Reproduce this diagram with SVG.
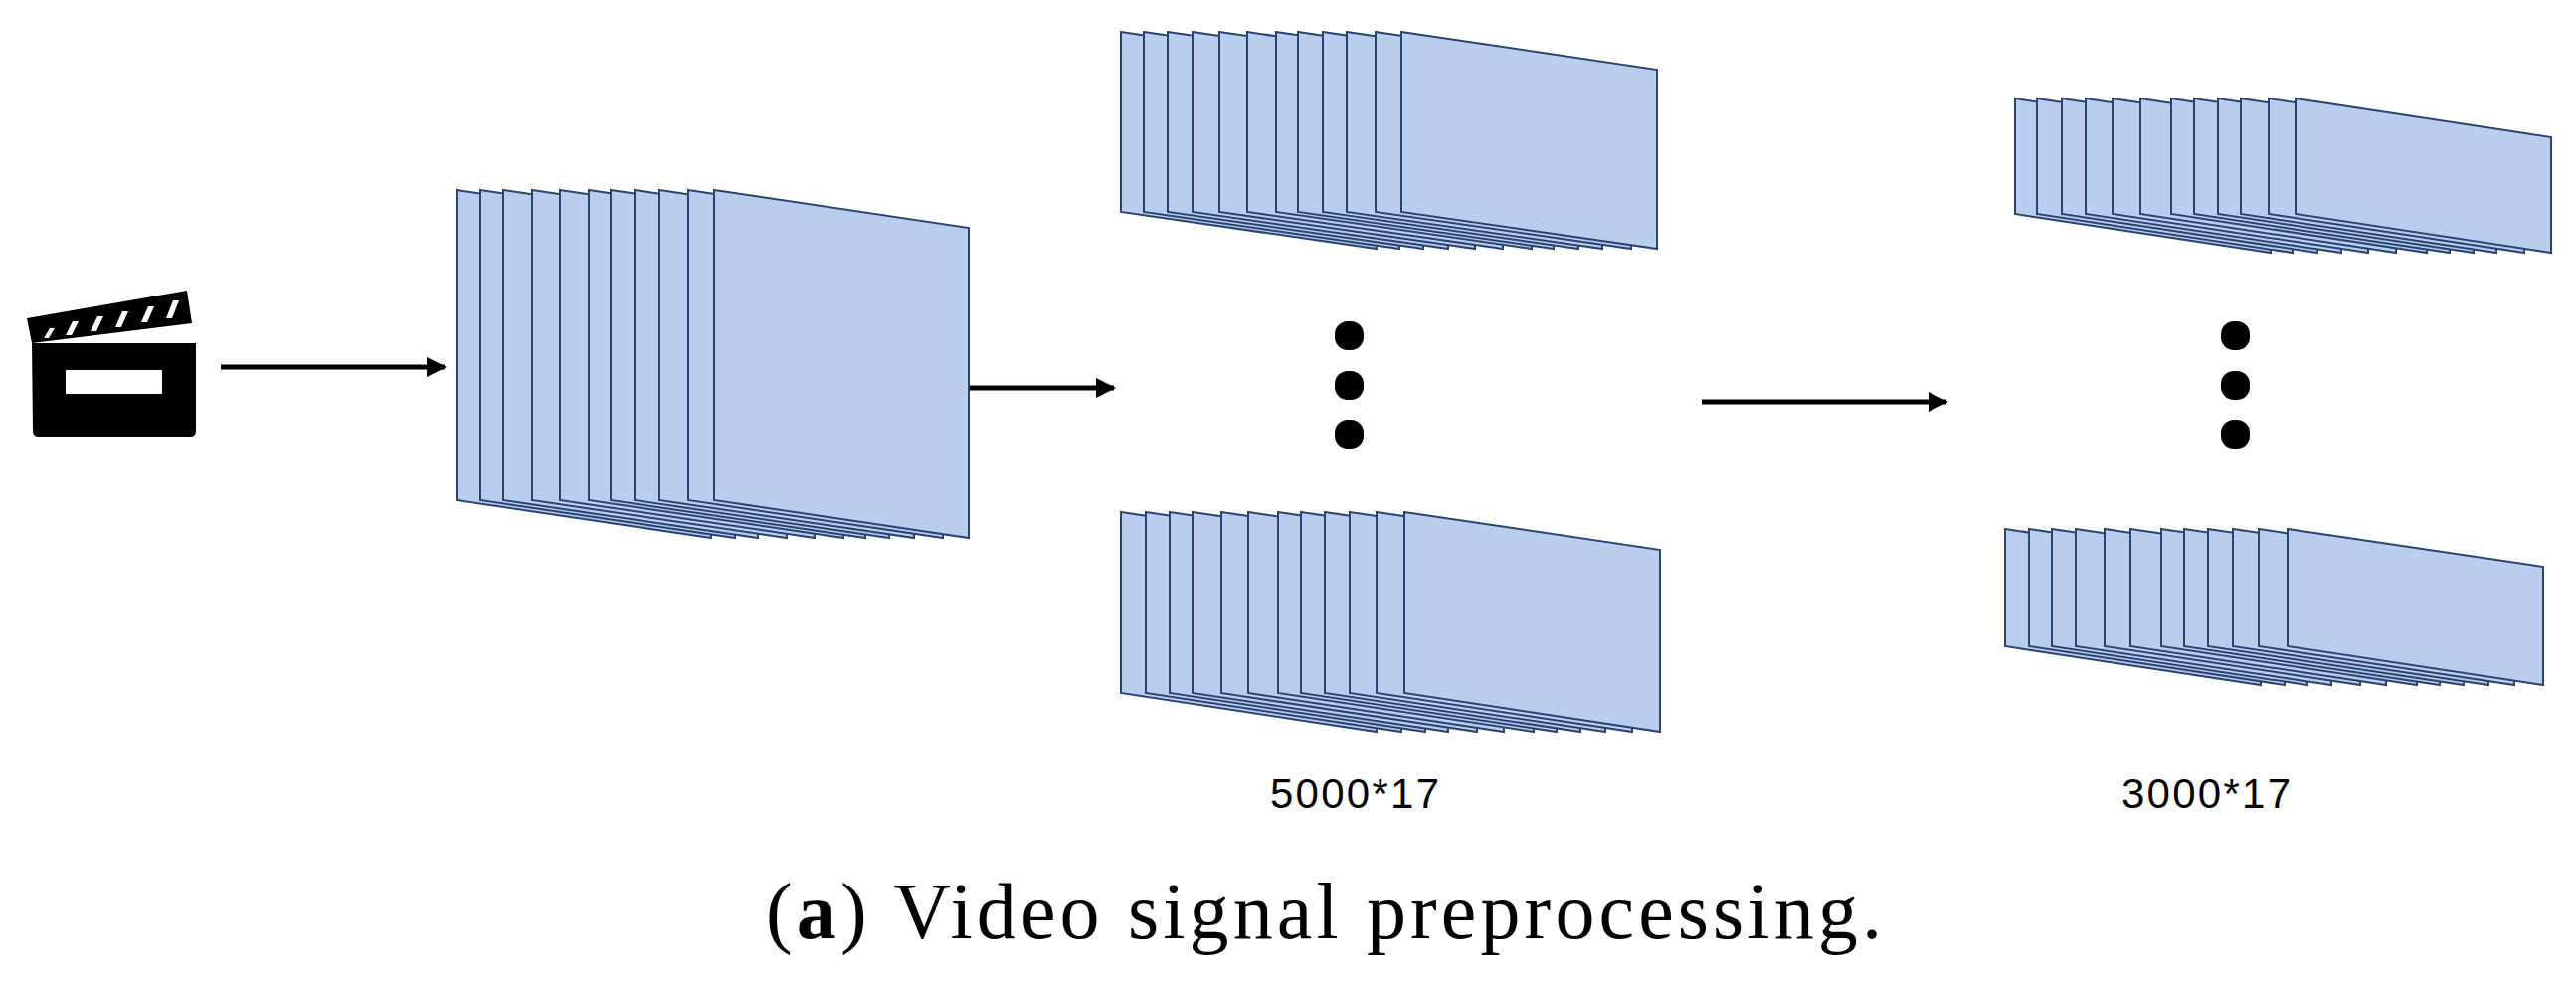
<svg xmlns="http://www.w3.org/2000/svg" xmlns:xlink="http://www.w3.org/1999/xlink" width="2590" height="990" viewBox="0 0 2590 990">
<style>
.p{fill:#B9CEEE;stroke:#2A4470;stroke-width:2;stroke-linejoin:miter}
.lbl{font-family:"Liberation Sans",Arial,sans-serif;font-size:42px;fill:#000}
.cap{font-family:"Liberation Serif","Times New Roman",serif;font-size:80px;fill:#000}
.ar{stroke:#000;stroke-width:5;fill:none}
</style>
<defs>
<polygon id="p1" class="p" points="0,191 256,229 256,541 0,503"/>
<polygon id="p2t" class="p" points="0,32 257,70 257,250 0,213"/>
<polygon id="p2b" class="p" points="0,515 257,553 257,736 0,697"/>
<polygon id="p3t" class="p" points="0,99 257,138 257,254 0,215"/>
<polygon id="p3b" class="p" points="0,532 257,570 257,688 0,649"/>
<marker id="ah" markerWidth="4" markerHeight="4" refX="3.6" refY="2" orient="auto" markerUnits="strokeWidth"><path d="M0,0 L4,2 L0,4 Z" fill="#000"/></marker>
</defs>
<g id="clapper">
<polygon points="27,320 188,292 193,325 32,345" fill="#000"/>
<g fill="#fff">
<polygon points="44,340 50,330 55,330 49,340"/>
<polygon points="66,337 73,323 79,323 72,337"/>
<polygon points="91,333 98,318 104,318 97,333"/>
<polygon points="116,329 123,313 129,313 122,329"/>
<polygon points="142,324 149,308 155,308 148,324"/>
<polygon points="167,320 174,302 180,302 173,320"/>
</g>
<path d="M32,345 H197 V433 Q197,439 191,439 H39 Q33,439 33,433 Z" fill="#000"/>
<rect x="66" y="372" width="97" height="24" fill="#fff"/>
</g>
<g id="stack1">
<use href="#p1" x="459"/><use href="#p1" x="483"/><use href="#p1" x="506"/><use href="#p1" x="535"/><use href="#p1" x="563"/><use href="#p1" x="592"/><use href="#p1" x="614"/><use href="#p1" x="638"/><use href="#p1" x="663"/><use href="#p1" x="692"/><use href="#p1" x="718"/>
</g>
<g id="stack2-top">
<use href="#p2t" x="1127"/><use href="#p2t" x="1150"/><use href="#p2t" x="1174"/><use href="#p2t" x="1199"/><use href="#p2t" x="1226"/><use href="#p2t" x="1254"/><use href="#p2t" x="1283"/><use href="#p2t" x="1305"/><use href="#p2t" x="1330"/><use href="#p2t" x="1354"/><use href="#p2t" x="1383"/><use href="#p2t" x="1409"/>
</g>
<g id="stack2-bottom">
<use href="#p2b" x="1127"/><use href="#p2b" x="1152"/><use href="#p2b" x="1176"/><use href="#p2b" x="1199"/><use href="#p2b" x="1228"/><use href="#p2b" x="1255"/><use href="#p2b" x="1285"/><use href="#p2b" x="1308"/><use href="#p2b" x="1332"/><use href="#p2b" x="1357"/><use href="#p2b" x="1384"/><use href="#p2b" x="1412"/>
</g>
<g id="stack3-top">
<use href="#p3t" x="2026"/><use href="#p3t" x="2048"/><use href="#p3t" x="2073"/><use href="#p3t" x="2097"/><use href="#p3t" x="2124"/><use href="#p3t" x="2152"/><use href="#p3t" x="2183"/><use href="#p3t" x="2206"/><use href="#p3t" x="2230"/><use href="#p3t" x="2253"/><use href="#p3t" x="2281"/><use href="#p3t" x="2308"/>
</g>
<g id="stack3-bottom">
<use href="#p3b" x="2016"/><use href="#p3b" x="2040"/><use href="#p3b" x="2063"/><use href="#p3b" x="2087"/><use href="#p3b" x="2116"/><use href="#p3b" x="2142"/><use href="#p3b" x="2173"/><use href="#p3b" x="2196"/><use href="#p3b" x="2220"/><use href="#p3b" x="2245"/><use href="#p3b" x="2271"/><use href="#p3b" x="2300"/>
</g>
<g id="dots1" fill="#000">
<rect x="1342" y="323" width="29" height="29" rx="13"/>
<rect x="1342" y="373" width="29" height="29" rx="13"/>
<rect x="1342" y="422" width="29" height="29" rx="13"/>
</g>
<g id="dots2" fill="#000">
<rect x="2233" y="323" width="29" height="29" rx="13"/>
<rect x="2233" y="373" width="29" height="29" rx="13"/>
<rect x="2233" y="422" width="29" height="29" rx="13"/>
</g>
<g id="connectors">
<line class="ar" x1="222" y1="369" x2="447" y2="369" marker-end="url(#ah)"/>
<line class="ar" x1="975" y1="390" x2="1120" y2="390" marker-end="url(#ah)"/>
<line class="ar" x1="1711" y1="404" x2="1957" y2="404" marker-end="url(#ah)"/>
</g>
<text class="lbl" x="1362" y="812" text-anchor="middle" textLength="170">5000*17</text>
<text class="lbl" x="2218" y="812" text-anchor="middle" textLength="170">3000*17</text>
<text class="cap" x="770" y="943" textLength="1122">(<tspan font-weight="bold">a</tspan>) Video signal preprocessing.</text>
</svg>
